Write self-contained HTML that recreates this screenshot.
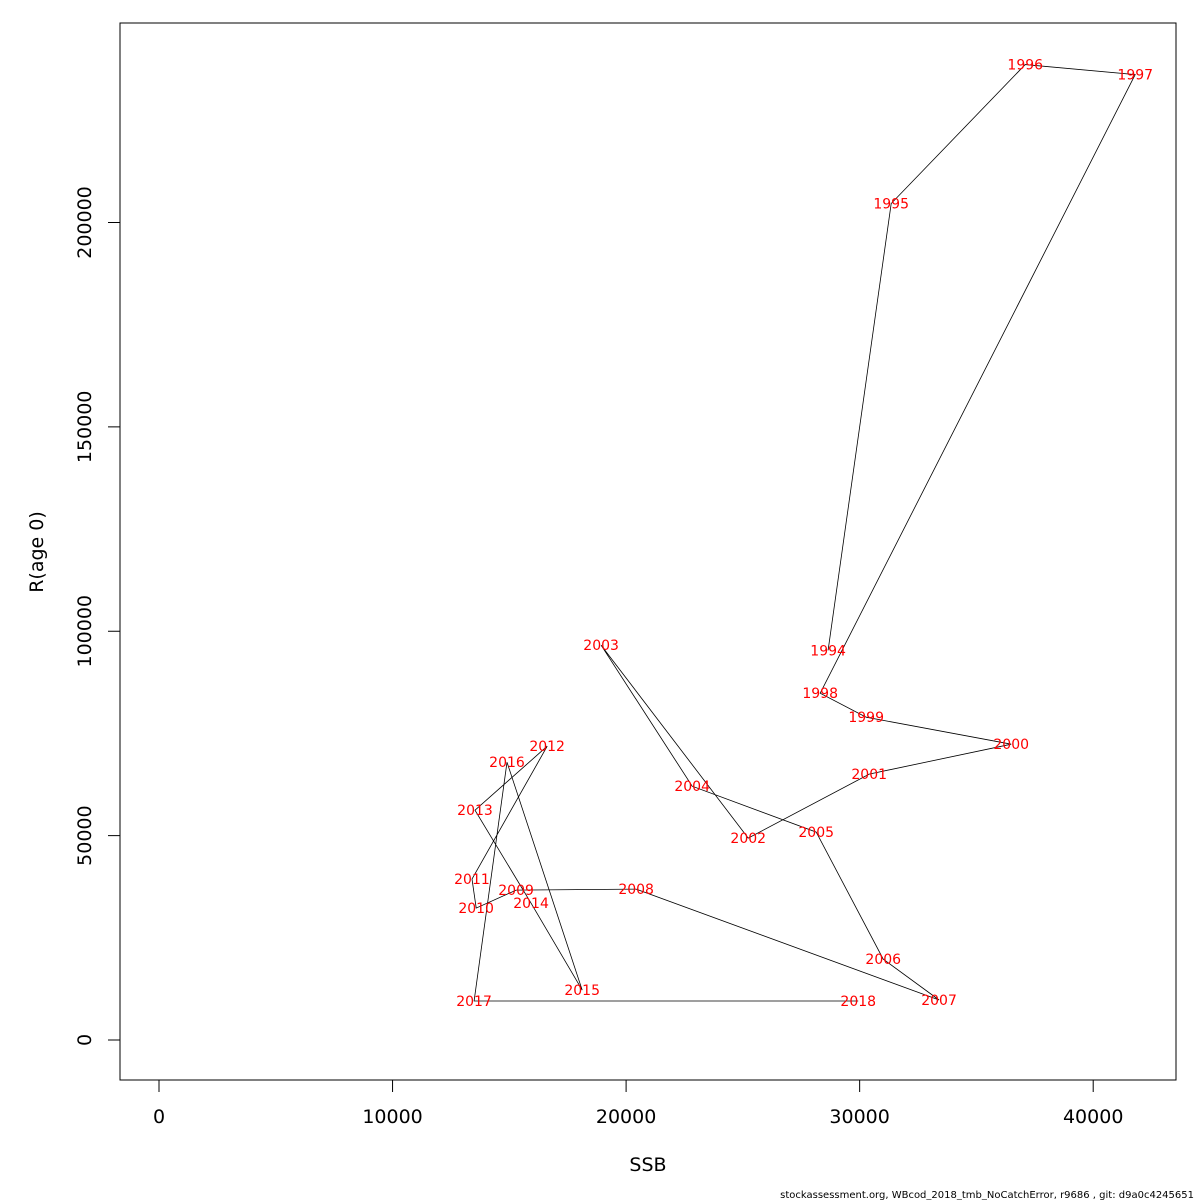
<!DOCTYPE html>
<html><head><meta charset="utf-8"><style>
html,body{margin:0;padding:0;background:#fff;}
svg{display:block;font-family:"DejaVu Sans","Liberation Sans",sans-serif;}
</style></head><body>
<svg id="chart" width="1200" height="1200" viewBox="0 0 1200 1200" xmlns="http://www.w3.org/2000/svg">
<rect x="120" y="23" width="1056" height="1057" fill="none" stroke="#000" stroke-width="1"/>
<g id="xaxis"></g>
<g id="yaxis"></g>
<g id="lines"></g>
<g id="labels"></g>
<text x="648" y="1171" font-size="19" text-anchor="middle">SSB</text>
<text x="0" y="0" font-size="19" text-anchor="middle" transform="translate(43,552) rotate(-90)">R(age 0)</text>
<text x="1194" y="1198" font-size="10" text-anchor="end">stockassessment.org, WBcod_2018_tmb_NoCatchError, r9686 , git: d9a0c4245651</text>
</svg>
<script>
const years=[1994,1995,1996,1997,1998,1999,2000,2001,2002,2003,2004,2005,2006,2007,2008,2009,2010,2011,2012,2013,2014,2015,2016,2017,2018];
const ssb=[28650,31350,37090,41800,28310,30280,36490,30410,25230,18930,22830,28140,31010,33400,20430,15290,13580,13400,16620,13530,15930,18120,14900,13490,29940];
const rec=[95350,204650,238630,236190,84840,78970,72370,65040,49390,96580,62100,50860,19800,9780,36920,36670,32270,39360,71880,56230,33500,12220,67970,9540,9540];
const xTicks=[0,10000,20000,30000,40000];
const yTicks=[0,50000,100000,150000,200000];
const NS="http://www.w3.org/2000/svg";
function X(v){return 159+v*0.023355;}
function Y(v){return 1040-v*0.0040875;}
function mk(tag,attrs,parent){const e=document.createElementNS(NS,tag);for(const k in attrs)e.setAttribute(k,attrs[k]);parent.appendChild(e);return e;}
const xa=document.getElementById('xaxis'),ya=document.getElementById('yaxis');
mk('line',{x1:X(0),x2:X(40000),y1:1080,y2:1080,stroke:'#000'},xa);
xTicks.forEach(t=>{
  const l=mk('line',{x1:X(t),x2:X(t),y1:1080,y2:1092,stroke:'#000'},xa);
  
  
  const tx=mk('text',{x:X(t),y:1123,'font-size':19,'text-anchor':'middle'},xa);
  tx.textContent=t;
  
  
});
yTicks.forEach(t=>{
  const l=mk('line',{x1:108,x2:120,y1:Y(t),y2:Y(t),stroke:'#000'},ya);
  
  
  const tx=mk('text',{x:0,y:0,'font-size':19,'text-anchor':'middle',transform:`translate(91,${Y(t)}) rotate(-90)`},ya);
  tx.textContent=t;
  
  
});
const pts=ssb.map((s,i)=>X(s).toFixed(1)+','+Y(rec[i]).toFixed(1)).join(' ');
const pl=mk('polyline',{points:pts,fill:'none',stroke:'#000','stroke-width':0.8},document.getElementById('lines'));


const lg=document.getElementById('labels');
years.forEach((y,i)=>{
  const t=mk('text',{x:X(ssb[i]),y:Y(rec[i])+5,'font-size':14,fill:'#ff0000','text-anchor':'middle'},lg);
  t.textContent=y;
  
  
});
</script>
</body></html>
